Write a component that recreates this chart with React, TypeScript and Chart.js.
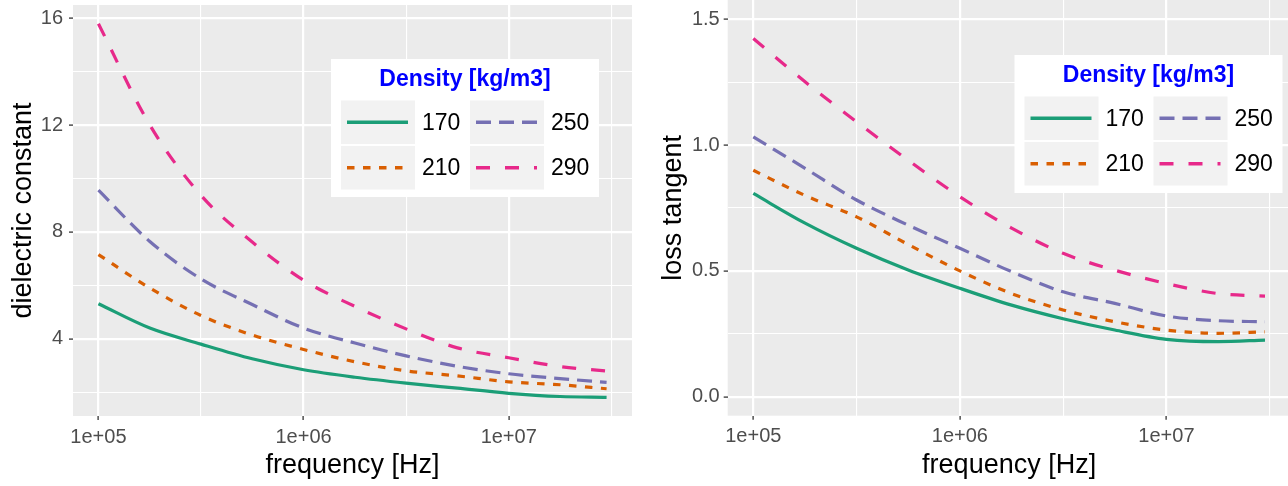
import React, { useEffect, useRef } from 'react';
import { Chart, registerables } from 'chart.js';

Chart.register(...registerables);

// ---------- data ----------
const frequencies = [1e5, 1.78e5, 3.16e5, 5.62e5, 1e6, 1.78e6, 3.16e6, 5.62e6, 1e7, 1.78e7, 3e7];
const densityLabels = ['170', '210', '250', '290'];

const dielectric170 = [5.31, 4.4, 3.8, 3.25, 2.84, 2.56, 2.34, 2.15, 1.96, 1.84, 1.81];
const dielectric210 = [7.15, 5.9, 4.87, 4.14, 3.6, 3.14, 2.8, 2.61, 2.39, 2.28, 2.13];
const dielectric250 = [9.56, 7.64, 6.24, 5.28, 4.4, 3.84, 3.36, 2.97, 2.69, 2.51, 2.37];
const dielectric290 = [15.79, 12.0, 9.37, 7.62, 6.19, 5.21, 4.37, 3.66, 3.29, 2.96, 2.79];

const loss170 = [0.808, 0.69, 0.59, 0.504, 0.431, 0.364, 0.31, 0.265, 0.228, 0.219, 0.225];
const loss210 = [0.9, 0.8, 0.715, 0.605, 0.5, 0.41, 0.345, 0.298, 0.265, 0.252, 0.258];
const loss250 = [1.033, 0.908, 0.782, 0.682, 0.59, 0.497, 0.417, 0.371, 0.321, 0.302, 0.298];
const loss290 = [1.424, 1.252, 1.093, 0.94, 0.795, 0.67, 0.57, 0.503, 0.45, 0.41, 0.4];

const xTickValues = [1e5, 316228, 1e6, 3162278, 1e7, 31622777];
const xTickLabels = ['1e+05', '', '1e+06', '', '1e+07', ''];

const dielectricTicks = [2, 4, 6, 8, 10, 12, 14, 16];
const dielectricTickLabels = ['', '4', '', '8', '', '12', '', '16'];

const lossTicks = [0, 0.25, 0.5, 0.75, 1.0, 1.25, 1.5];
const lossTickLabels = ['0.0', '', '0.5', '', '1.0', '', '1.5'];

// ---------- styles ----------
const seriesColors = ['#1B9E77', '#D95F02', '#7570B3', '#E7298A'];
const seriesDashes: number[][] = [[], [7.5, 8.5], [15, 8], [14, 15]];
const FONT = '"Liberation Sans", Arial, sans-serif';

type Props = {
  series: number[][];
  yMin: number;
  yMax: number;
  yTicks: number[];
  yTickLabels: string[];
  yTitle: string;
  canvasLeft: number;
  yAxisWidth: number;
  padTop: number;
  padRight: number;
  xAxisHeight: number;
  yTickPad: number;
  legendX: number;
  legendY: number;
};

function makeLegendPlugin(lx: number, ly: number) {
  return {
    id: 'densityLegend',
    afterDraw(chart: any) {
      const ctx = chart.ctx as CanvasRenderingContext2D;
      const w = 268, h = 138;
      ctx.save();
      ctx.fillStyle = '#FFFFFF';
      ctx.fillRect(lx, ly, w, h);
      ctx.fillStyle = '#0000FF';
      ctx.font = `bold 23px ${FONT}`;
      ctx.textAlign = 'center';
      ctx.textBaseline = 'middle';
      ctx.fillText('Density [kg/m3]', lx + w / 2, ly + 21);
      const cellW = 74, cellH = 43.5;
      const order = [0, 2, 1, 3]; // column-major: 170,210 | 250,290
      for (let k = 0; k < 4; k++) {
        const idx = order[k];
        const col = k % 2;
        const row = Math.floor(k / 2);
        const cx = lx + 10 + col * 129;
        const cy = ly + 41.5 + row * (cellH + 2);
        ctx.fillStyle = '#F2F2F2';
        ctx.fillRect(cx, cy, cellW, cellH);
        ctx.strokeStyle = seriesColors[idx];
        ctx.lineWidth = 3.5;
        ctx.lineCap = 'butt';
        ctx.setLineDash(seriesDashes[idx]);
        ctx.beginPath();
        ctx.moveTo(cx + 6, cy + cellH / 2);
        ctx.lineTo(cx + 67, cy + cellH / 2);
        ctx.stroke();
        ctx.setLineDash([]);
        ctx.fillStyle = '#000000';
        ctx.font = `23px ${FONT}`;
        ctx.textAlign = 'left';
        ctx.fillText(densityLabels[idx], cx + 81, cy + cellH / 2 + 1);
      }
      ctx.restore();
    },
  };
}

const panelBg = {
  id: 'panelBg',
  beforeDraw(chart: any) {
    const { ctx, chartArea } = chart;
    if (!chartArea) return;
    ctx.save();
    ctx.fillStyle = '#EBEBEB';
    ctx.fillRect(chartArea.left, chartArea.top, chartArea.right - chartArea.left, chartArea.bottom - chartArea.top);
    ctx.restore();
  },
};

function Panel(p: Props) {
  const ref = useRef<HTMLCanvasElement | null>(null);
  useEffect(() => {
    if (!ref.current) return;
    const yMajor = (v: number) => p.yTickLabels[p.yTicks.indexOf(v)] !== '';
    const xMajor = (v: number) => xTickLabels[xTickValues.indexOf(v)] !== '';
    const chart = new Chart(ref.current, {
      type: 'line',
      data: {
        labels: frequencies,
        datasets: p.series.map((vals, i) => ({
          label: densityLabels[i],
          data: vals.map((v, j) => ({ x: frequencies[j], y: v })),
          borderColor: seriesColors[i],
          borderWidth: 3.2,
          borderDash: seriesDashes[i],
          pointRadius: 0,
          fill: false,
          cubicInterpolationMode: 'monotone' as const,
        })),
      },
      options: {
        animation: false,
        responsive: false,
        layout: { padding: { left: 0, top: p.padTop, right: p.padRight, bottom: 0 } },
        plugins: { legend: { display: false }, tooltip: { enabled: false } },
        scales: {
          x: {
            type: 'logarithmic',
            min: Math.pow(10, 4.876),
            max: Math.pow(10, 7.601),
            afterBuildTicks: (scale: any) => {
              scale.ticks = xTickValues.map((v) => ({ value: v }));
            },
            afterFit: (scale: any) => {
              scale.height = p.xAxisHeight;
              scale.paddingLeft = 0;
              scale.paddingRight = 0;
            },
            ticks: {
              autoSkip: false,
              maxRotation: 0,
              minRotation: 0,
              padding: 5,
              color: '#4D4D4D',
              font: { family: FONT, size: 20 },
              callback: (v: any) => {
                const i = xTickValues.indexOf(Number(v));
                return i >= 0 ? xTickLabels[i] : '';
              },
            },
            grid: {
              color: '#FFFFFF',
              lineWidth: (c: any) => (c.tick && xMajor(c.tick.value) ? 2.2 : 1.1),
              drawTicks: true,
              tickLength: 4,
              tickWidth: 1.3,
              tickColor: (c: any) => (c.tick && xMajor(c.tick.value) ? '#333333' : 'rgba(0,0,0,0)'),
            },
            border: { display: false },
            title: {
              display: true,
              text: 'frequency [Hz]',
              color: '#000000',
              font: { family: FONT, size: 27 },
              padding: { top: 0, bottom: 4 },
            },
          },
          y: {
            type: 'linear',
            min: p.yMin,
            max: p.yMax,
            afterBuildTicks: (scale: any) => {
              scale.ticks = p.yTicks.map((v) => ({ value: v }));
            },
            afterFit: (scale: any) => {
              scale.width = p.yAxisWidth;
              scale.paddingTop = 0;
              scale.paddingBottom = 0;
            },
            ticks: {
              autoSkip: false,
              padding: p.yTickPad,
              color: '#4D4D4D',
              font: { family: FONT, size: 20 },
              callback: (v: any) => {
                const i = p.yTicks.indexOf(Number(v));
                return i >= 0 ? p.yTickLabels[i] : '';
              },
            },
            grid: {
              color: '#FFFFFF',
              lineWidth: (c: any) => (c.tick && yMajor(c.tick.value) ? 2.2 : 1.1),
              drawTicks: true,
              tickLength: 4,
              tickWidth: 1.3,
              tickColor: (c: any) => (c.tick && yMajor(c.tick.value) ? '#333333' : 'rgba(0,0,0,0)'),
            },
            border: { display: false },
            title: {
              display: true,
              text: p.yTitle,
              color: '#000000',
              font: { family: FONT, size: 27 },
              padding: { top: 7, bottom: 0 },
            },
          },
        },
      },
      plugins: [panelBg, makeLegendPlugin(p.legendX, p.legendY)],
    } as any);
    return () => chart.destroy();
  }, []);
  return (
    <div style={{ position: 'absolute', left: p.canvasLeft, top: 0, width: 650, height: 486 }}>
      <canvas ref={ref} width={650} height={486} style={{ width: 650, height: 486, display: 'block' }} />
    </div>
  );
}

export default function App() {
  return (
    <div
      style={{
        position: 'fixed',
        left: 0,
        top: 0,
        width: 1288,
        height: 486,
        overflow: 'hidden',
        background: '#FFFFFF',
      }}
    >
      <Panel
        series={[dielectric170, dielectric210, dielectric250, dielectric290]}
        yMin={1.11}
        yMax={16.49}
        yTicks={dielectricTicks}
        yTickLabels={dielectricTickLabels}
        yTitle="dielectric constant"
        canvasLeft={0}
        yAxisWidth={73}
        padTop={5}
        padRight={18}
        xAxisHeight={70}
        yTickPad={6}
        legendX={331}
        legendY={59}
      />
      <Panel
        series={[loss170, loss210, loss250, loss290]}
        yMin={-0.0755}
        yMax={1.577}
        yTicks={lossTicks}
        yTickLabels={lossTickLabels}
        yTitle="loss tangent"
        canvasLeft={650}
        yAxisWidth={77.7}
        padTop={0}
        padRight={9.4}
        xAxisHeight={70.3}
        yTickPad={4}
        legendX={364.5}
        legendY={55}
      />
    </div>
  );
}
